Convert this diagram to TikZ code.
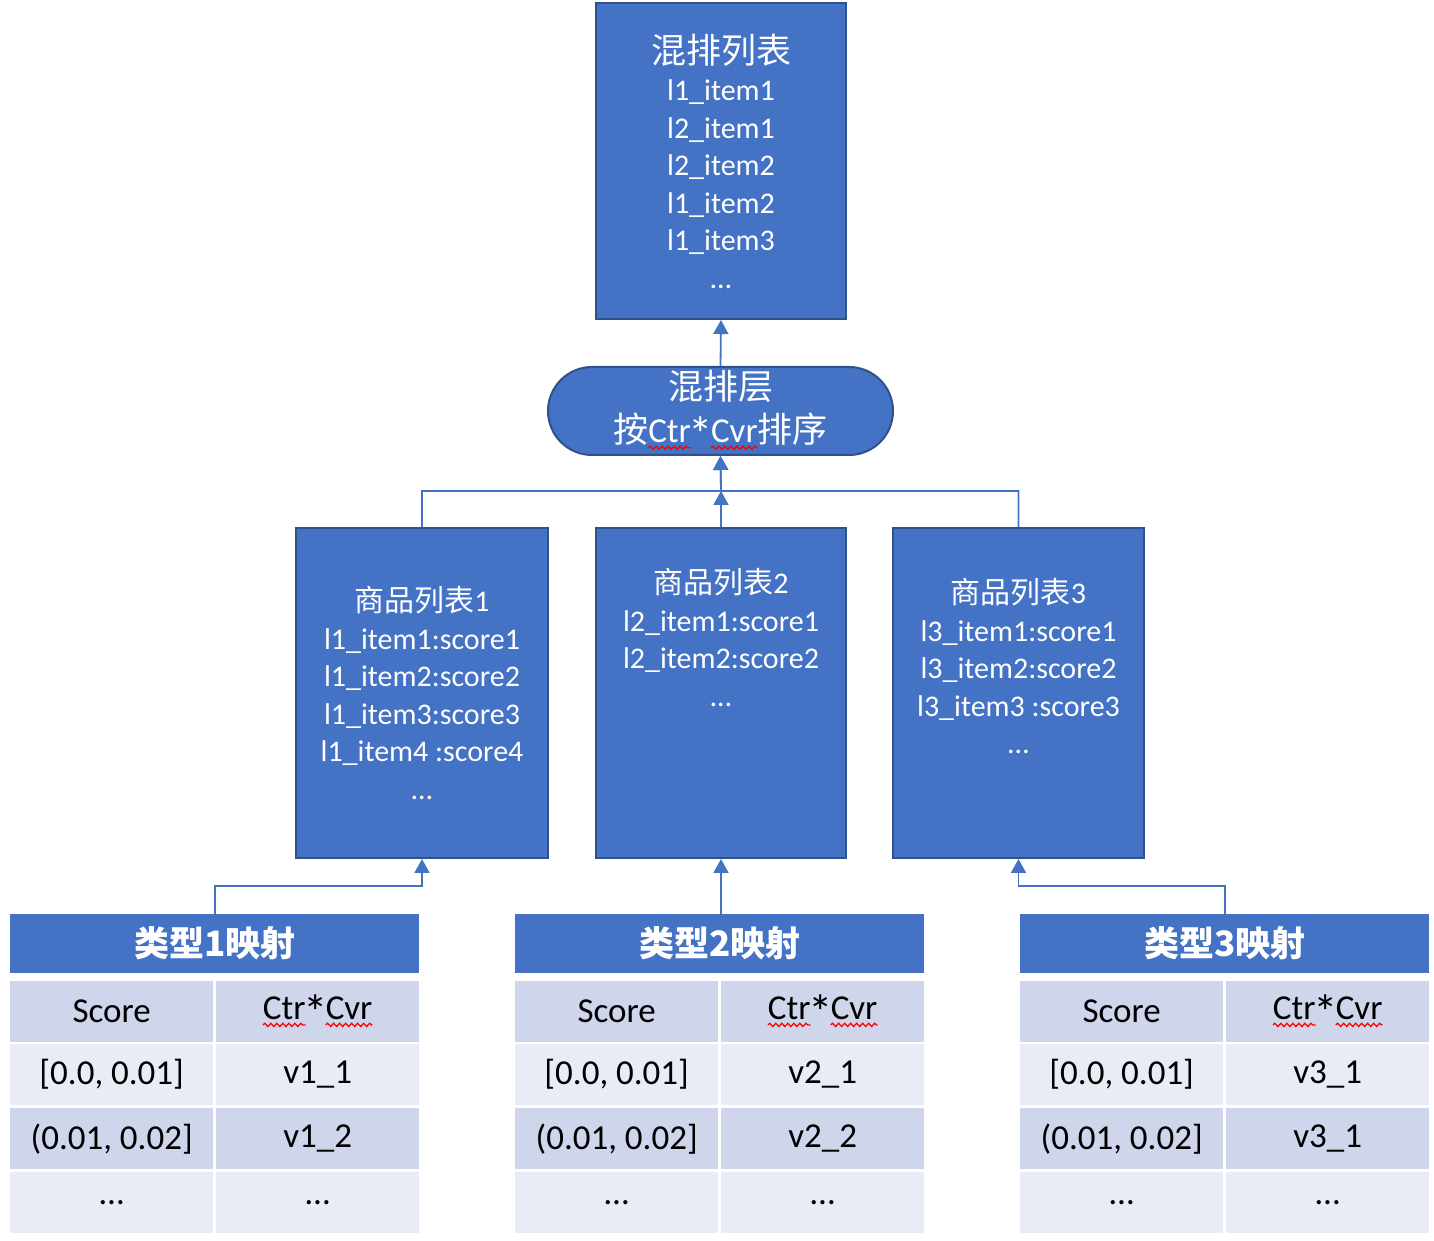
\documentclass[tikz,border=0pt]{standalone}
\usepackage{fontspec}
\usepackage{graphicx}
\usepackage{tikz}
\usepackage{xcolor}
\usetikzlibrary{arrows.meta,decorations.pathmorphing}
\setmainfont{Carlito}
\newfontfamily\cjk{Noto Sans CJK SC}
\definecolor{boxblue}{HTML}{4472C4}
\definecolor{boxedge}{HTML}{2F528F}
\definecolor{rowdark}{HTML}{CFD5EA}
\definecolor{rowlight}{HTML}{E9EBF5}
\tikzset{
  plainword/.style={shape=rectangle, draw=none, fill=none, minimum width=0pt, minimum height=0pt,
    inner sep=0pt, outer sep=0pt, anchor=base, sharp corners},
  spellmark/.style={overlay, draw=red, fill=none, line width=1.3pt, sharp corners, decorate,
    decoration={snake, amplitude=1.6pt, segment length=6pt}},
}
\newcommand\redwave[1]{\tikz[baseline=(w.base)]{\node[plainword] (w) {#1};
  \draw[spellmark] ([yshift=-5pt]w.south west) -- ([yshift=-5pt]w.south east);}}
\newcommand\astx{\kern-0.06em\raisebox{-0.27em}{\scalebox{1.4}{*}}\kern-0.06em}
\tikzset{
  listbox/.style={draw=boxedge, line width=2pt, fill=boxblue, text=white, align=center, inner sep=0pt},
  listtext/.style={text=white, align=center, font=\fontsize{30}{37.5}\selectfont},
  conn/.style={draw=boxblue, line width=1.8pt, -{Triangle[width=15pt,length=14pt]}},
  hdr/.style={fill=boxblue, minimum width=409pt, minimum height=59pt, inner sep=0pt, text=white, font=\cjk\bfseries\fontsize{35}{40}\selectfont},
  cell/.style={minimum width=203pt, minimum height=61pt, inner sep=0pt, anchor=north west, font=\fontsize{35}{40}\selectfont},
}

\begin{document}
\begin{tikzpicture}[x=1pt, y=1pt]
\useasboundingbox[fill=white] (0,0) rectangle (1434,1240);

% result and mixing layer
\node[listbox, minimum width=250pt, minimum height=316pt, font=\fontsize{30}{37.5}\selectfont] (result) at (721,1079)
  {{\cjk\fontsize{35}{37.5}\selectfont 混排列表}\\ l1\_item1\\ l2\_item1\\ l2\_item2\\ l1\_item2\\ l1\_item3\\ …};
\node[listbox, rounded corners=44pt, minimum width=345pt, minimum height=88pt, font=\fontsize{35}{43}\selectfont] (mix) at (720.5,829)
  {{\cjk 混排层}\\{\cjk 按}\redwave{Ctr}\astx\redwave{Cvr}{\cjk 排序}};

% item lists
\node[listbox, minimum width=252pt, minimum height=330pt, font=\fontsize{30}{37.5}\selectfont] (list1) at (422,547)
  {{\cjk 商品列表}1\\ l1\_item1:score1\\ l1\_item2:score2\\ l1\_item3:score3\\ l1\_item4 :score4\\ …};
\node[listbox, minimum width=250pt, minimum height=330pt] (list2) at (721,547) {};
\node[listtext] (list2txt) at (721,602.5)
  {{\cjk 商品列表}2\\ l2\_item1:score1\\ l2\_item2:score2\\ …};
\node[listbox, minimum width=251pt, minimum height=330pt] (list3) at (1018.5,547) {};
\node[listtext] (list3txt) at (1018.5,574)
  {{\cjk 商品列表}3\\ l3\_item1:score1\\ l3\_item2:score2\\ l3\_item3 :score3\\ …};

\coordinate (join) at (721,749);
\draw[conn] (mix.north) -- (result.south);
\draw[conn] (list1.north) |- (join) -- (mix.south);
\draw[conn] (list3.north) |- (join) -- (mix.south);
\draw[conn] (list2.north) -- (join);

% mapping tables
\foreach \t/\x/\va/\vb in {1/10/v1\_1/v1\_2, 2/515/v2\_1/v2\_2, 3/1020/v3\_1/v3\_1} {
  \node[hdr, anchor=north west] (hdr\t) at (\x,326) {类型{\t}映射};
  \node[cell, fill=rowdark] (t\t a) at (\x,259) {Score};
  \node[cell, fill=rowdark] (t\t b) at (\x+206,259) {\redwave{Ctr}\astx\redwave{Cvr}};
  \node[cell, fill=rowlight] (t\t c) at (\x,196) {[0.0, 0.01]};
  \node[cell, fill=rowlight] (t\t d) at (\x+206,196) {\va};
  \node[cell, fill=rowdark] (t\t e) at (\x,132) {(0.01, 0.02]};
  \node[cell, fill=rowdark] (t\t f) at (\x+206,132) {\vb};
  \node[cell, fill=rowlight] (t\t g) at (\x,68) {…};
  \node[cell, fill=rowlight] (t\t h) at (\x+206,68) {…};
}

\draw[conn] (hdr1.north) -- ++(0,28) -| (list1.south);
\draw[conn] (hdr2.north -| list2.south) -- (list2.south);
\draw[conn] (hdr3.north) -- ++(0,28) -| (list3.south);
\end{tikzpicture}
\end{document}
